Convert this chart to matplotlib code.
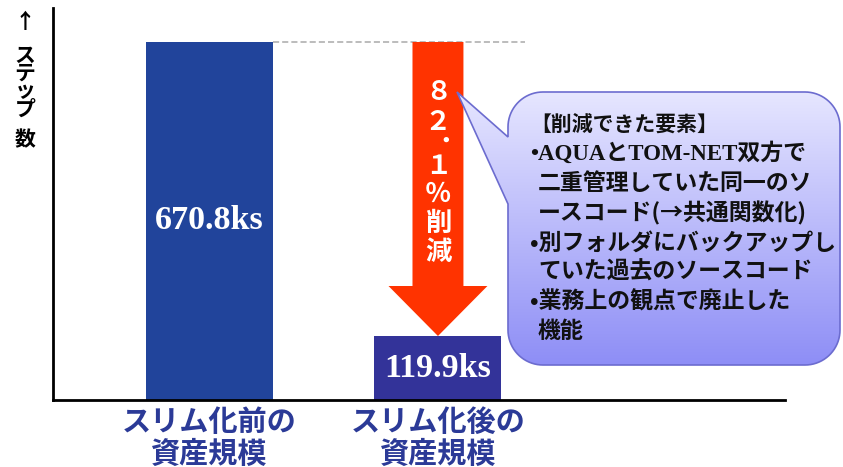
import numpy as np
import matplotlib
matplotlib.use('Agg')
import matplotlib.pyplot as plt
from matplotlib.patches import Polygon
from matplotlib.colors import LinearSegmentedColormap
from matplotlib import transforms

plt.rcParams['font.family'] = ['Noto Sans CJK JP', 'DejaVu Sans']

# データ
categories = ['スリム化前の\n資産規模', 'スリム化後の\n資産規模']
steps_ks = [670.8, 119.9]
bar_colors = ['#21449B', '#333399']
ylabel_chars = ['↑', 'ス', 'テ', 'ッ', 'プ', '数']
note_lines = [
    '【削減できた要素】',
    '•AQUAとTOM-NET双方で',
    '二重管理していた同一のソ',
    'ースコード(→共通関数化)',
    '•別フォルダにバックアップし',
    'ていた過去のソースコード',
    '•業務上の観点で廃止した',
    '機能',
]

W, H = 843, 467
fig = plt.figure(figsize=(W / 100, H / 100), dpi=100)
ax = fig.add_axes([53 / W, 67 / H, 732 / W, 392 / H])

x = np.arange(len(steps_ks))
bar_w = 0.556
ax.bar(x, steps_ks, width=bar_w, color=bar_colors, zorder=2)
ax.set_xlim(-0.685, 2.519)
ax.set_ylim(0, 734.5)

for xi, v in zip(x, steps_ks):
    ax.text(xi, v / 2, f'{v}ks', ha='center', va='center', color='white',
            fontsize=24.5, fontweight='bold', family='Liberation Serif', zorder=3)

# 軸
for s in ['top', 'right']:
    ax.spines[s].set_visible(False)
for s in ['left', 'bottom']:
    ax.spines[s].set_linewidth(2)
ax.set_yticks([])
ax.set_xticks(x, categories, fontsize=21, fontweight='bold', color='#2B3A97')
ax.tick_params(axis='x', length=0, pad=5)
for lbl in ax.get_xticklabels():
    lbl.set_linespacing(1.1)

# 削減量の矢印
top, low = steps_ks
ax.hlines(top, x[0] + bar_w / 2, x[1] + 0.38, colors='#AAAAAA',
          linestyles=(0, (4, 2)), lw=1.1, zorder=1)
hw, hh = 0.1115, 0.2165
head_len = 93.7
head_y = low + head_len
arrow = Polygon([(x[1] - hw, top), (x[1] + hw, top), (x[1] + hw, head_y),
                 (x[1] + hh, head_y), (x[1], low), (x[1] - hh, head_y),
                 (x[1] - hw, head_y)], closed=True, facecolor='#FF3300',
                edgecolor='none', zorder=4)
ax.add_patch(arrow)

# 重ね描き用（ピクセル座標, y下向き）
ov = fig.add_axes([0, 0, 1, 1], zorder=3)
ov.set_xlim(0, W)
ov.set_ylim(H, 0)
ov.axis('off')

# 矢印の中の縦書き
rate = (1 - low / top) * 100
zen = str.maketrans('0123456789.%', '０１２３４５６７８９．％')
arrow_chars = list(f'{rate:.1f}%'.translate(zen)) + ['削', '減']
char_y = [93, 122, 135, 167, 194, 223, 252]
tr = transforms.blended_transform_factory(ax.transData, ov.transData)
for ch, cy in zip(arrow_chars, char_y):
    dx = 0.06 if ch == '．' else 0
    ov.text(x[1] + dx, cy, ch, transform=tr, ha='center', va='center',
            color='white', fontsize=19, fontweight='bold', zorder=5)

# 縦書きの軸ラベル
for ch, cy in zip(ylabel_chars, [22, 55, 73, 91, 109, 140]):
    ov.text(25, cy, ch, ha='center', va='center', fontsize=15,
            fontweight='bold', color='black')

# 吹き出し
x0, x1, y0, y1, r = 508, 840, 92, 365, 35


def arc(cx, cy, a0, a1):
    t = np.radians(np.linspace(a0, a1, 20))
    return list(zip(cx + r * np.cos(t), cy + r * np.sin(t)))


pts = []
pts += arc(x1 - r, y0 + r, -90, 0)
pts += arc(x1 - r, y1 - r, 0, 90)
pts += arc(x0 + r, y1 - r, 90, 180)
pts += [(x0, 204), (457, 92), (x0, 137)]
pts += arc(x0 + r, y0 + r, 180, 270)
bubble = Polygon(pts, closed=True, facecolor='none', edgecolor='#6C6CCF',
                 lw=1.2, zorder=6)
ov.add_patch(bubble)
cmap = LinearSegmentedColormap.from_list('bub', ['#E6E6FF', '#8E8EF6'])
grad = ov.imshow(np.linspace(0, 1, 256)[:, None], cmap=cmap, aspect='auto',
                 extent=(450, x1, y1, y0), origin='upper', zorder=5)
grad.set_clip_path(bubble)

for i, line in enumerate(note_lines):
    tx = 530 if line[0] in '•【' else 538
    fam = ['Liberation Serif', 'Noto Sans CJK JP'] if 'AQUA' in line \
        else ['Noto Sans CJK JP', 'DejaVu Sans']
    fs = 15 if i == 0 else 16.5
    ov.text(tx, 124 + i * 29.7, line, ha='left', va='center', fontsize=fs,
            fontweight='bold', color='#111111', family=fam, zorder=7)

fig.savefig('out.png', dpi=100)
